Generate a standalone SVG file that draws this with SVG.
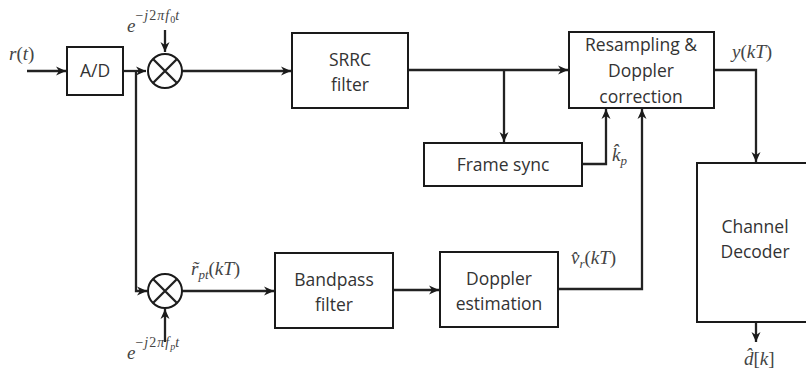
<svg xmlns="http://www.w3.org/2000/svg" width="806" height="377" viewBox="0 0 806 377">
<style>
.box{fill:#fff;stroke:#1a1a1a;stroke-width:2}
.mix{fill:#fff;stroke:#1a1a1a;stroke-width:2}
.wire{fill:none;stroke:#222;stroke-width:2.3}
.t{font-family:"Open Sans","Liberation Sans",sans-serif;font-size:17.5px;fill:#333;text-anchor:middle}
.m{font-family:"Liberation Serif","DejaVu Serif",serif;font-style:italic;font-size:19px;fill:#444}
.u{font-style:normal}
.s{font-size:14px;letter-spacing:1px}
.b{font-size:13px}
</style>
<defs>
<marker id="ah" markerUnits="userSpaceOnUse" markerWidth="12" markerHeight="10" refX="10" refY="5" orient="auto">
<path d="M0,0.5 L10,5 L0,9.5 L3,5 Z" fill="#1a1a1a"/>
</marker>
</defs>
<rect width="806" height="377" fill="#fff"/>
<g id="connectors">
<path class="wire" d="M27,71 H66" marker-end="url(#ah)"/>
<path class="wire" d="M123,71 H146" marker-end="url(#ah)"/>
<path class="wire" d="M165,30 V52" marker-end="url(#ah)"/>
<path class="wire" d="M182,71 H291" marker-end="url(#ah)"/>
<path class="wire" d="M136,71 V291 H147" marker-end="url(#ah)"/>
<path class="wire" d="M165,342 V309" marker-end="url(#ah)"/>
<path class="wire" d="M182,291 H274" marker-end="url(#ah)"/>
<path class="wire" d="M393,290 H439" marker-end="url(#ah)"/>
<path class="wire" d="M408,70 H568" marker-end="url(#ah)"/>
<path class="wire" d="M504,70 V142" marker-end="url(#ah)"/>
<path class="wire" d="M582,164 H606 V109" marker-end="url(#ah)"/>
<path class="wire" d="M558,289 H642 V109" marker-end="url(#ah)"/>
<path class="wire" d="M714,70 H756 V162" marker-end="url(#ah)"/>
<path class="wire" d="M756,322 V342" marker-end="url(#ah)"/>
</g>
<g id="labels">
<text class="m" x="9" y="60">r<tspan class="u">(</tspan>t<tspan class="u">)</tspan></text>
<text class="m" x="127" y="32">e<tspan class="s" dy="-12"><tspan class="u">−</tspan>j<tspan class="u">2</tspan>πf</tspan><tspan class="u" font-size="10px" dy="3">0</tspan><tspan class="s" dy="-3">t</tspan></text>
<text class="m" x="127" y="359">e<tspan class="s" dy="-12"><tspan class="u">−</tspan>j<tspan class="u">2</tspan>πf</tspan><tspan font-size="10px" dy="3">p</tspan><tspan class="s" dy="-3">t</tspan></text>
<text class="m" x="191" y="275">r̃<tspan class="b" dy="4">pt</tspan><tspan class="u" dy="-4">(</tspan>kT<tspan class="u">)</tspan></text>
<text class="m" x="612" y="161">k̂<tspan class="b" dy="4">p</tspan></text>
<text class="m" x="571" y="264">v̂<tspan class="b" dy="4">r</tspan><tspan class="u" dy="-4">(</tspan>kT<tspan class="u">)</tspan></text>
<text class="m" x="732" y="58">y<tspan class="u">(</tspan>kT<tspan class="u">)</tspan></text>
<text class="m" x="744" y="365">d̂<tspan class="u">[</tspan>k<tspan class="u">]</tspan></text>
</g>
<g id="ad"><rect class="box" x="67" y="47" width="56" height="48"/><text class="t" x="95" y="77">A/D</text></g>
<g id="mixer1"><circle class="mix" cx="165" cy="71" r="17"/><path class="wire" d="M153,59 L177,83 M177,59 L153,83"/></g>
<g id="mixer2"><circle class="mix" cx="165" cy="291" r="17"/><path class="wire" d="M153,279 L177,303 M177,279 L153,303"/></g>
<g id="srrc"><rect class="box" x="292" y="33" width="116" height="75"/><text class="t" x="350" y="66">SRRC</text><text class="t" x="350" y="91">filter</text></g>
<g id="resampling"><rect class="box" x="569" y="32" width="145" height="76"/><text class="t" x="641" y="51">Resampling &amp;</text><text class="t" x="641" y="77">Doppler</text><text class="t" x="641" y="103">correction</text></g>
<g id="framesync"><rect class="box" x="424" y="143" width="158" height="43"/><text class="t" x="503" y="171">Frame sync</text></g>
<g id="bandpass"><rect class="box" x="275" y="253" width="118" height="75"/><text class="t" x="334" y="286">Bandpass</text><text class="t" x="334" y="311">filter</text></g>
<g id="dopplerest"><rect class="box" x="440" y="252" width="118" height="75"/><text class="t" x="499" y="285">Doppler</text><text class="t" x="499" y="310">estimation</text></g>
<g id="decoder"><rect class="box" x="697" y="163" width="130" height="159"/><text class="t" x="755" y="233">Channel</text><text class="t" x="755" y="258">Decoder</text></g>
</svg>
